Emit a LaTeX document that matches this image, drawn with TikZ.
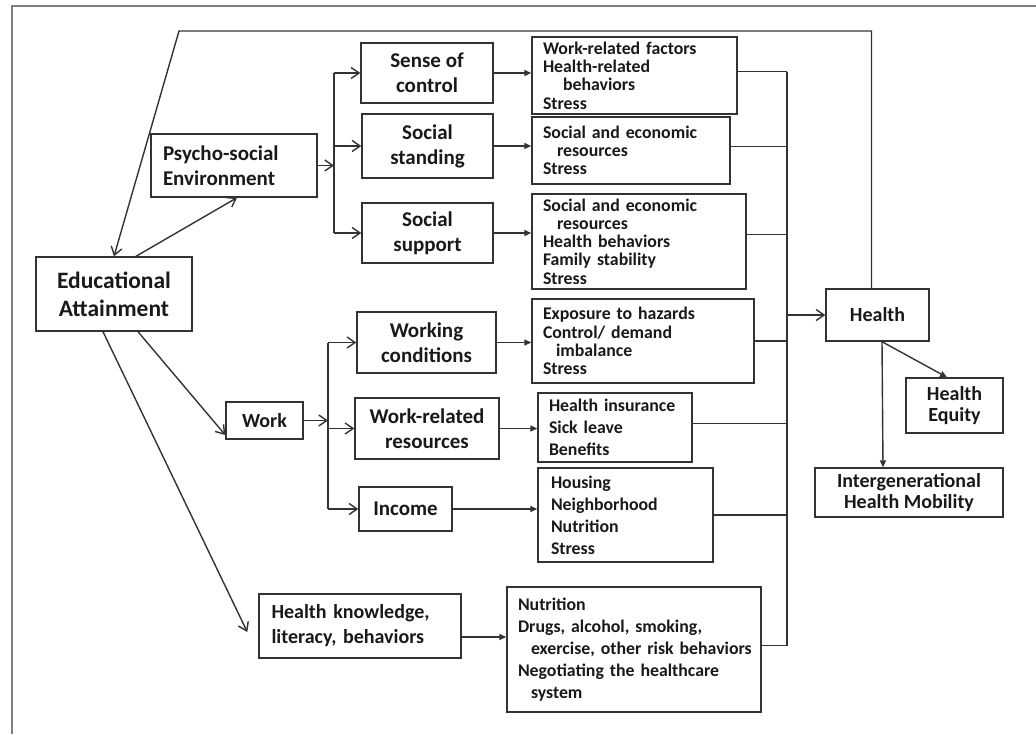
\documentclass[tikz,border=0pt]{standalone}
\usepackage{fontspec}
\setmainfont{Carlito}
\usepackage{tikz}
\usetikzlibrary{arrows.meta}

\begin{document}
\begin{tikzpicture}[x=1pt,y=-1pt,
		line width=1.4pt, draw=black!80, text=black!90,
		box/.style={draw, align=center, inner sep=0pt, font=\bfseries\fontsize{21}{25}\selectfont},
		txtbox/.style={draw, align=left, inner xsep=11pt, inner ysep=0pt, font=\bfseries\fontsize{17.8}{18.3}\selectfont},
		wide/.style={font=\bfseries\fontsize{17.8}{22}\selectfont},
		open/.style={-{Straight Barb[length=8pt,width=11pt]}},
		solid/.style={-{Triangle[length=7pt,width=6pt]}}]
		\useasboundingbox (0,0) rectangle (1036,734);
		\draw[gray, line width=2pt] (12,734) -- (12,5.5) -- (1036,5.5);

		\node[box, minimum width=156pt, minimum height=74pt, font=\bfseries\fontsize{23.5}{28}\selectfont] (edu) at (114,294) {Educational\\Attainment};
		\node[box, minimum width=166pt, minimum height=63pt, align=left, text width=142pt, inner xsep=12pt] (psy) at (234,165.5) {Psycho-social\\Environment};
		\node[box, minimum width=132pt, minimum height=60pt] (sense) at (427,73) {Sense of\\control};
		\node[box, minimum width=131pt, minimum height=64pt] (stand) at (427.5,146) {Social\\standing};
		\node[box, minimum width=131pt, minimum height=60pt] (supp) at (427.5,233) {Social\\support};
		\node[box, minimum width=77pt, minimum height=37pt, font=\bfseries\fontsize{20}{25}\selectfont] (work) at (264.5,420.5) {Work};
		\node[box, minimum width=139pt, minimum height=61pt] (wcond) at (426.5,342.5) {Working\\conditions};
		\node[box, minimum width=144pt, minimum height=61pt] (wres) at (427,428.5) {Work-related\\resources};
		\node[box, minimum width=93pt, minimum height=44pt] (income) at (405.5,509) {Income};
		\node[box, minimum width=202pt, minimum height=64pt, align=left, text width=177pt, inner xsep=12.5pt, font=\bfseries\fontsize{20}{25}\selectfont] (know) at (360,626) {Health knowledge,\\literacy, behaviors};

		\node[txtbox, minimum width=205pt, minimum height=77pt, text width=183pt] (t1) at (634.5,75.5) {Work-related factors\\Health-related\\\hspace*{20pt}behaviors\\Stress};
		\node[txtbox, minimum width=198pt, minimum height=67pt, text width=176pt] (t2) at (631,150.5) {Social and economic\\\hspace*{14pt}resources\\Stress};
		\node[txtbox, minimum width=214pt, minimum height=95pt, text width=192pt] (t3) at (639,241.5) {Social and economic\\\hspace*{14pt}resources\\Health behaviors\\Family stability\\Stress};
		\node[txtbox, minimum width=222pt, minimum height=84pt, text width=200pt] (t4) at (643,341) {Exposure to hazards\\Control/ demand\\\hspace*{13pt}imbalance\\Stress};
		\node[txtbox, wide, minimum width=154pt, minimum height=69pt, text width=132pt] (t5) at (615,427.5) {Health insurance\\Sick leave\\Benefits};
		\node[txtbox, wide, minimum width=171pt, minimum height=94pt, text width=149pt, inner xsep=13pt] (t6) at (625.5,515) {Housing\\Neighborhood\\Nutrition\\Stress};
		\node[txtbox, wide, minimum width=254pt, minimum height=125pt, text width=232pt, inner xsep=11pt] (t7) at (634,649.5) {Nutrition\\\mbox{Drugs, alcohol,\ smoking,}\\\mbox{\hspace*{13pt}exercise, other risk behaviors}\\\mbox{Negotiating the healthcare}\\\hspace*{13pt}system};

		\node[box, minimum width=103pt, minimum height=52pt, font=\bfseries\fontsize{20}{25}\selectfont] (health) at (877.5,315) {Health};
		\node[box, minimum width=97pt, minimum height=55pt, font=\bfseries\fontsize{20}{21}\selectfont] (equity) at (954.5,405.5) {Health\\Equity};
		\node[box, minimum width=188pt, minimum height=49pt, font=\bfseries\fontsize{20}{21}\selectfont] (mobility) at (909,492.5) {Intergenerational\\Health Mobility};

		\coordinate (psyfork) at (334,0);
		\coordinate (workfork) at (328,0);
		\coordinate (bus) at (787,0);
		\coordinate (loop) at (179,31);

		\draw[open] ([xshift=-6pt]health.north) |- (loop) -- (edu.north);
		\draw[open] ([xshift=22pt]edu.north) -- ([xshift=3pt]psy.south);
		\draw[open] ([xshift=24pt]edu.south) -- ([yshift=-14.5pt]work.west);
		\draw[open] ([xshift=-11pt]edu.south) -- ([xshift=-11pt,yshift=-6pt]know.west);

		\draw[open] (psy.east) -- (psyfork |- psy.east);
		\draw (psyfork |- sense.west) -- (psyfork |- supp.west);
		\draw[open] (psyfork |- sense.west) -- (sense.west);
		\draw[open] (psyfork |- stand.west) -- (stand.west);
		\draw[open] (psyfork |- supp.west) -- (supp.west);

		\draw[open] (work.east) -- (workfork |- work.east);
		\draw (workfork |- wcond.west) -- (workfork |- income.west);
		\draw[open] (workfork |- wcond.west) -- (wcond.west);
		\draw[open] (workfork |- wres.west) -- (wres.west);
		\draw[open] (workfork |- income.west) -- (income.west);

		\draw[solid] (sense.east) -- (sense.east -| t1.west);
		\draw[solid] (stand.east) -- (stand.east -| t2.west);
		\draw[solid] (supp.east) -- (supp.east -| t3.west);
		\draw[solid] (wcond.east) -- (wcond.east -| t4.west);
		\draw[solid] (wres.east) -- (wres.east -| t5.west);
		\draw[solid] (income.east) -- (income.east -| t6.west);
		\draw[solid] ([yshift=-11pt]know.east) -- ([yshift=-11pt]know.east -| t7.west);

		\draw ([yshift=4pt]t1.east) -- ([yshift=4pt]t1.east -| bus);
		\draw ([yshift=4pt]t2.east) -- ([yshift=4pt]t2.east -| bus);
		\draw ([yshift=7pt]t3.east) -- ([yshift=7pt]t3.east -| bus);
		\draw (t4.east) -- (t4.east -| bus);
		\draw ([yshift=4pt]t5.east) -- ([yshift=4pt]t5.east -| bus);
		\draw (t6.east) -- (t6.east -| bus);
		\draw ([yshift=4pt]t7.east) -- ([yshift=4pt]t7.east -| bus);
		\draw ([yshift=4pt]bus |- t1.east) -- ([yshift=4pt]bus |- t7.east);
		\draw[open] (bus |- health.west) -- (health.west);

		\draw[solid] ([xshift=4.5pt]health.south) -- ([xshift=-7.5pt]equity.north);
		\draw[solid] ([xshift=4.5pt]health.south) -- ([xshift=-26pt]mobility.north);
	\end{tikzpicture}
\end{document}
